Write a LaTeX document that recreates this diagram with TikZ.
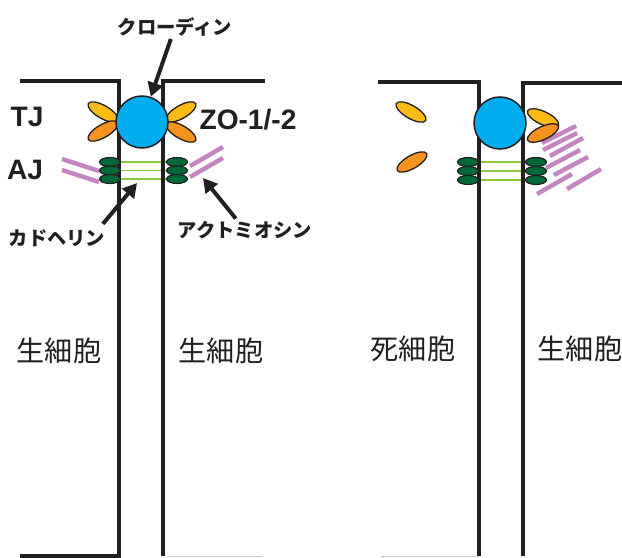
\documentclass[tikz,border=0pt]{standalone}
\usepackage{fontspec}
\usepackage{xcolor}
\usepackage{tikz}
\usetikzlibrary{positioning, arrows.meta, shapes.geometric, calc, backgrounds}

\newfontfamily\latinfont{Liberation Sans}
\newfontfamily\jpfont{Noto Sans CJK JP}

\definecolor{tjblue}{RGB}{0,174,239}
\definecolor{zoyellow}{RGB}{253,187,22}
\definecolor{zoorange}{RGB}{246,146,30}
\definecolor{cadgreen}{RGB}{0,104,56}
\definecolor{linkgreen}{RGB}{141,198,63}
\definecolor{myosin}{RGB}{196,133,192}
\definecolor{ink}{RGB}{35,31,32}

\begin{document}
\begin{tikzpicture}[
x=0.03cm, y=-0.03cm,
membrane/.style={
draw=ink,
line width=3.4pt
},
edge/.style={
draw=black!22,
line width=0.8pt
},
claudin/.style={
circle,
draw=ink,
line width=1.3pt,
fill=tjblue,
minimum size=1.56cm,
inner sep=0pt
},
zo/.style={
ellipse,
draw=ink,
line width=1.1pt,
minimum width=1.02cm,
minimum height=0.39cm,
inner sep=0pt
},
cadherin/.style={
ellipse,
draw=ink,
line width=1pt,
fill=cadgreen,
minimum width=0.63cm,
minimum height=0.27cm,
inner sep=0pt
},
link/.style={
draw=linkgreen,
line width=1.6pt
},
actin/.style={
draw=myosin,
line width=3.8pt
},
arrow/.style={
-{Triangle[length=12pt,width=13pt]},
draw=ink,
line width=3.4pt
},
tag/.style={
text=ink,
inner sep=2pt,
font=\latinfont\bfseries\fontsize{24}{24}\selectfont
},
kana/.style={
text=ink,
inner sep=2pt,
font=\jpfont\bfseries\fontsize{16.5}{16.5}\selectfont
},
cell/.style={
text=ink,
inner sep=2pt,
font=\jpfont\fontsize{24}{24}\selectfont
}
]
\useasboundingbox (0,0) rectangle (622,557);

% cell outlines
\draw[membrane] (20,81) -- (119,81) -- (119,556) -- (20,556);
\draw[membrane] (265,81) -- (163,81) -- (163,556);
\draw[edge] (167,556) -- (262,556);
\draw[membrane] (378,82) -- (479,82) -- (479,556);
\draw[edge] (381,556) -- (479,556);
\draw[membrane] (622,83) -- (523,83) -- (523,556);

% actomyosin
\draw[actin] (62,159) -- (99,171);
\draw[actin] (62,170) -- (99,182);
\draw[actin] (190,166) -- (223,147);
\draw[actin] (190,177) -- (223,158);
\draw[actin] (542,143) -- ++(34,-17);
\draw[actin] (543,150) -- ++(34,-17);
\draw[actin] (550,156) -- ++(33,-18);
\draw[actin] (546,168) -- ++(34,-18);
\draw[actin] (554,175) -- ++(34,-18);
\draw[actin] (537,194) -- ++(35,-20);
\draw[actin] (567,189) -- ++(34,-20);

% ZO-1/-2
\node[zo, fill=zoyellow, rotate=-30] (zo1a) at (103,112) {};
\node[zo, fill=zoorange, rotate=30] (zo1b) at (103,131) {};
\node[zo, fill=zoyellow, rotate=30] (zo1c) at (181,112) {};
\node[zo, fill=zoorange, rotate=-30] (zo1d) at (181,132) {};
\node[zo, fill=zoyellow, rotate=-30] (zo2a) at (411,112) {};
\node[zo, fill=zoorange, rotate=30] (zo2b) at (412,162) {};
\node[zo, fill=zoyellow, rotate=-25] (zo2c) at (543,118) {};
\node[zo, fill=zoorange, rotate=25] (zo2d) at (543,133) {};

% claudin
\node[claudin] (tj1) at (142,122) {};
\node[claudin] (tj2) at (500,123) {};

% cadherin
\node[cadherin] (c1l) at (110,162) {};
\node[cadherin] (c2l) at (110,170.5) {};
\node[cadherin] (c3l) at (110,179) {};
\node[cadherin] (c1r) at (177,162) {};
\node[cadherin] (c2r) at (177,170.5) {};
\node[cadherin] (c3r) at (177,179) {};
\node[cadherin] (d1l) at (468,162) {};
\node[cadherin] (d2l) at (468,171) {};
\node[cadherin] (d3l) at (468,180) {};
\node[cadherin] (d1r) at (536,162) {};
\node[cadherin] (d2r) at (536,171) {};
\node[cadherin] (d3r) at (536,180) {};

\begin{scope}[on background layer]
\draw[link] (c1l) -- (c1r);
\draw[link] (c2l) -- (c2r);
\draw[link] (c3l) -- (c3r);
\draw[link] (d1l) -- (d1r);
\draw[link] (d2l) -- (d2r);
\draw[link] (d3l) -- (d3r);
\end{scope}

% labels
\node[kana] (cldnlbl) at (175,27) {クローディン};
\node[tag] (tjlbl) at (27,117) {TJ};
\node[tag] (zolbl) at (248,120) {ZO-1/-2};
\node[tag] (ajlbl) at (25,170) {AJ};
\node[kana] (cadlbl) at (57,238) {カドヘリン};
\node[kana] (actlbl) at (245,230) {アクトミオシン};

\node[cell] (live1) at (59,351) {生細胞};
\node[cell] (live2) at (221,351) {生細胞};
\node[cell] (dead) at (413,349) {死細胞};
\node[cell] (live3) at (580,349) {生細胞};

\coordinate (cadtip) at (137,183);
\coordinate (actip) at (203,178);

\draw[arrow] (cldnlbl) -- (tj1);
\draw[arrow] ($(cadlbl.north east)+(-5,-3)$) -- (cadtip);
\draw[arrow] (actlbl) -- (actip);

\end{tikzpicture}
\end{document}
